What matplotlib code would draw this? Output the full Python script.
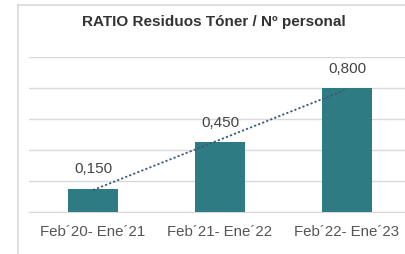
import numpy as np
import matplotlib.pyplot as plt
from matplotlib.lines import Line2D

# datos
periodos = ['Feb´20- Ene´21', 'Feb´21- Ene´22', 'Feb´22- Ene´23']
ratio = [0.150, 0.450, 0.800]
etiquetas = ['0,150', '0,450', '0,800']

plt.rcParams['font.family'] = ['Liberation Sans', 'DejaVu Sans']

fig = plt.figure(figsize=(4.06, 2.54), dpi=100)
ax = fig.add_axes([29.5 / 406, 42 / 254, (406 - 29.5) / 406, 155 / 254])

x = np.arange(len(periodos))
ax.bar(x, ratio, width=0.39, color='#2f7b83', zorder=3)

# linea de tendencia
a, b = np.polyfit(x, ratio, 1)
ax.plot(x, a * x + b, linestyle=(0, (1.2, 1.2)), color='#3d5a78', lw=1.3, zorder=4)

for xi, v, t in zip(x, ratio, etiquetas):
    ax.text(xi, v + 0.08, t, ha='center', va='bottom', fontsize=11, color='#444444')

ax.set_xlim(-0.5, 2.465)
ax.set_ylim(0, 1.0)
ax.set_yticks(np.arange(0, 1.01, 0.2))
ax.yaxis.grid(True, color='#d9d9d9', lw=1)
ax.tick_params(axis='y', left=False, labelleft=False)
ax.tick_params(axis='x', length=0, pad=9, labelsize=10.8, labelcolor='#555555')
ax.set_xticks(x)
ax.set_xticklabels(periodos)
for s in ax.spines.values():
    s.set_visible(False)
ax.spines['bottom'].set_visible(True)
ax.spines['bottom'].set_color('#d9d9d9')
ax.set_axisbelow(True)

# marco del grafico
fig.add_artist(Line2D([18 / 406, 18 / 406], [0, 1 - 5 / 254], color='#d9d9d9', lw=1.2))
fig.add_artist(Line2D([18 / 406, 1], [1 - 5 / 254, 1 - 5 / 254], color='#d9d9d9', lw=1.2))

fig.text(214 / 406, 1 - 22 / 254, 'RATIO Residuos Tóner / Nº personal', ha='center', va='center',
         fontsize=11, fontweight='bold', color='#333333')

fig.savefig('out.png', dpi=100)
